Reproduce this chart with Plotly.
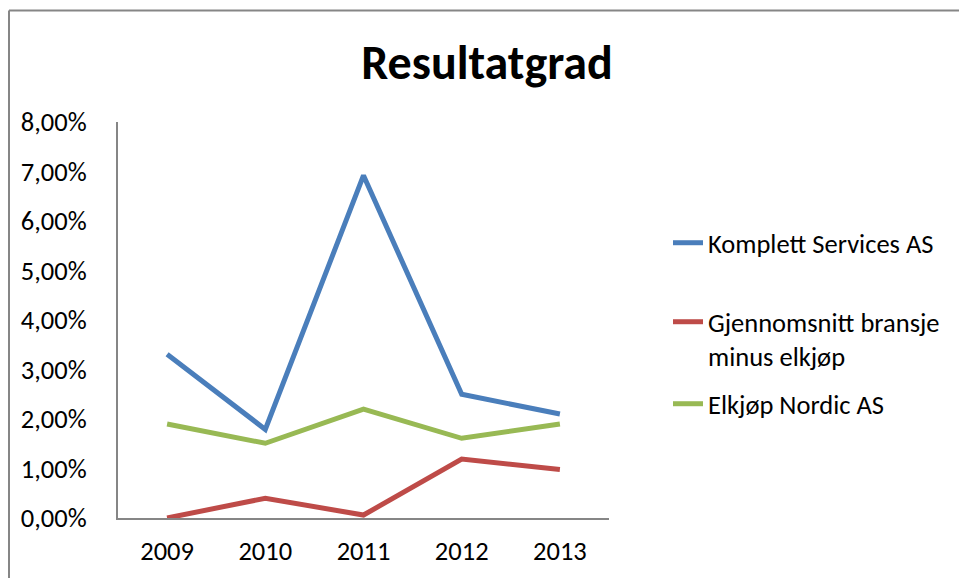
import plotly.graph_objects as go

years = ["2009", "2010", "2011", "2012", "2013"]
komplett = [0.0331, 0.0179, 0.0692, 0.0250, 0.0210]
bransje = [0.0000, 0.0040, 0.0006, 0.0119, 0.0098]
elkjop = [0.0190, 0.0151, 0.0220, 0.0161, 0.0190]

names = ["Komplett Services AS", "Gjennomsnitt bransje<br>minus elkjøp", "Elkjøp Nordic AS"]
colors = ["#4A7EBB", "#BE4B48", "#98B954"]
series = [komplett, bransje, elkjop]
legend_tops = [219, 298, 380]  # px from top

W, H = 959, 578
L, R, T, B = 118, 350, 122, 60
font = "Carlito, Lato, sans-serif"
fs = 26.5

pw, ph = W - L - R, H - T - B

fig = go.Figure()
for i, (name, vals, col) in enumerate(zip(names, series, colors)):
    fig.add_trace(go.Scatter(
        x=years, y=vals, name=name, mode="lines",
        line=dict(color=col, width=5),
        legend="legend" if i == 0 else f"legend{i + 1}",
    ))

legends = {}
for i, top in enumerate(legend_tops):
    key = "legend" if i == 0 else f"legend{i + 1}"
    legends[key] = dict(x=(668 - L) / pw, xanchor="left", y=(H - B - top) / ph,
                        yanchor="top", valign="top", font=dict(size=fs),
                        bgcolor="rgba(0,0,0,0)")

# chart frame (left + top edges visible, rest clipped)
fx0 = (9 - L) / pw
fy1 = (H - B - 10.5) / ph
fig.add_shape(type="line", xref="paper", yref="paper", x0=fx0, x1=fx0, y0=-1, y1=fy1,
              line=dict(color="#868686", width=2))
fig.add_shape(type="line", xref="paper", yref="paper", x0=fx0, x1=3, y0=fy1, y1=fy1,
              line=dict(color="#868686", width=2))

fig.update_layout(
    width=W, height=H,
    margin=dict(l=L, r=R, t=T, b=B, autoexpand=False),
    paper_bgcolor="white", plot_bgcolor="white",
    separators=", ",
    font=dict(family=font, size=fs, color="black"),
    title=dict(text="<b>Resultatgrad</b>", x=(487 - L) / pw, xref="paper", xanchor="center",
               y=1 - 62 / H, yanchor="middle", font=dict(size=48, family=font)),
    xaxis=dict(type="category", range=[-0.5, 4.5], showline=True, linecolor="#868686",
               linewidth=2, showgrid=False, ticks="", ticklabelstandoff=8,
               automargin=False),
    yaxis=dict(range=[0, 0.08], dtick=0.01, tickformat=".2%", showline=True,
               linecolor="#868686", linewidth=2, showgrid=False, zeroline=False,
               ticks="", ticklabelstandoff=24, automargin=False),
    showlegend=True,
    **legends,
)

fig.write_html("out.html", config={"displayModeBar": False},
               post_script="document.body.style.margin='0';")
